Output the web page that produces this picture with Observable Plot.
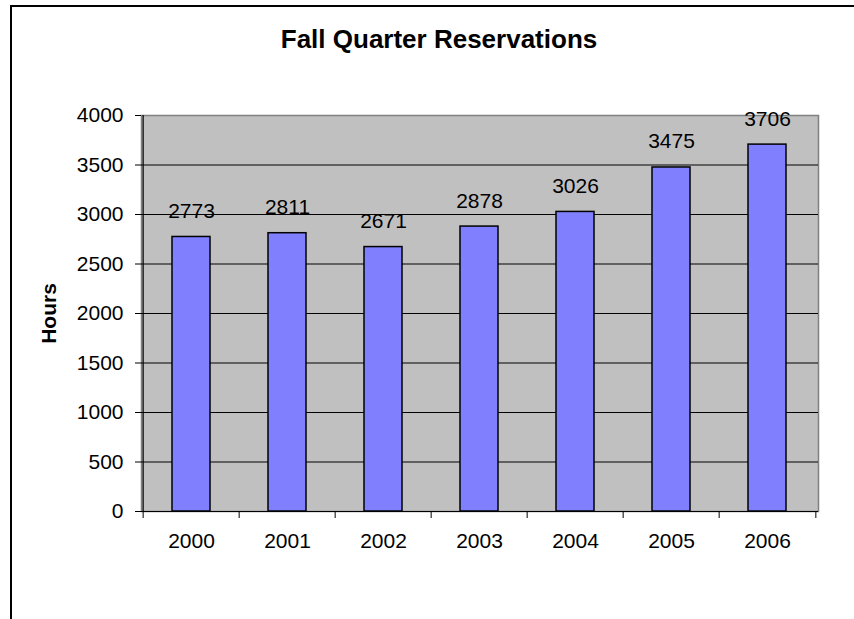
<!DOCTYPE html>
<html>
<head>
<meta charset="utf-8">
<script src="https://cdn.jsdelivr.net/npm/d3@7"></script>
<script src="https://cdn.jsdelivr.net/npm/@observablehq/plot@0.6"></script>
<style>
  html, body { margin: 0; padding: 0; background: #fff; }
  #wrap { position: relative; width: 854px; height: 619px; overflow: hidden; font-family: "Liberation Sans", Arial, sans-serif; }
  #border { position: absolute; left: 10px; top: 5px; width: 1000px; height: 1000px; border-left: 2px solid #000; border-top: 2px solid #000; box-sizing: border-box; }
  #title { position: absolute; left: 0; width: 878px; top: 26px; line-height: 26px; text-align: center; font-weight: bold; font-size: 26px; color: #000; }
  #chart { position: absolute; left: 0; top: 0; }
</style>
</head>
<body>
<div id="wrap">
  <div id="border"></div>
  <div id="title">Fall Quarter Reservations</div>
  <div id="chart"></div>
</div>
<script>
const years = ["2000", "2001", "2002", "2003", "2004", "2005", "2006"];
const hours = [2773, 2811, 2671, 2878, 3026, 3475, 3706];
const yTicks = [0, 500, 1000, 1500, 2000, 2500, 3000, 3500, 4000];
const gridTicks = [500, 1000, 1500, 2000, 2500, 3000, 3500];
const yLabel = "Hours";

const data = years.map((y, i) => ({year: y, hours: hours[i]}));

const W = 854, H = 619;
const mL = 141, mR = 36, mT = 115, mB = 108;
const step = (W - mL - mR) / years.length;
const font = "Liberation Sans, Arial, sans-serif";

const chart = Plot.plot({
  width: W,
  height: H,
  marginLeft: mL,
  marginRight: mR,
  marginTop: mT,
  marginBottom: mB,
  style: {fontFamily: font, fontSize: "21px", color: "#000", background: "transparent", overflow: "visible"},
  x: {domain: years, type: "band", paddingInner: 0.6, paddingOuter: 0.3, align: 0.5, label: null},
  y: {domain: [0, 4000], label: null},
  marks: [
    Plot.frame({fill: "#C0C0C0", stroke: "#808080", strokeWidth: 1.5}),
    Plot.ruleY(gridTicks, {stroke: "#000", strokeWidth: 1}),
    Plot.barY(data, {x: "year", y: "hours", fill: "#8080FF", stroke: "#000", strokeWidth: 1.5}),
    Plot.text(data, {x: "year", y: "hours", text: d => String(d.hours), lineAnchor: "bottom", dy: -19, fontSize: 21, fill: "#000"}),
    Plot.ruleY([0], {stroke: "#000", strokeWidth: 1.2}),
    Plot.ruleX(years.slice(0, 1), {x: d => d, y1: 0, y2: 4000, dx: -step / 2, stroke: "#000", strokeWidth: 1.2}),
    Plot.axisY(yTicks, {anchor: "left", tickSize: 6, tickPadding: 12, fontSize: 21, stroke: "#000", tickFormat: d => String(d), label: null}),
    Plot.text([yLabel], {frameAnchor: "left", textAnchor: "middle", rotate: -90, dx: -92, text: d => d, fontSize: 21, fontWeight: "bold", fill: "#000"}),
    Plot.axisX({tickSize: 0, tickPadding: 22, fontSize: 21, lineAnchor: "top", label: null}),
    Plot.ruleX(years, {x: d => d, y1: 0, y2: 0, insetBottom: -7, dx: -step / 2, stroke: "#000"}),
    Plot.ruleX(years.slice(-1), {x: d => d, y1: 0, y2: 0, insetBottom: -7, dx: step / 2, stroke: "#000"})
  ]
});
document.getElementById("chart").appendChild(chart);
</script>
</body>
</html>
